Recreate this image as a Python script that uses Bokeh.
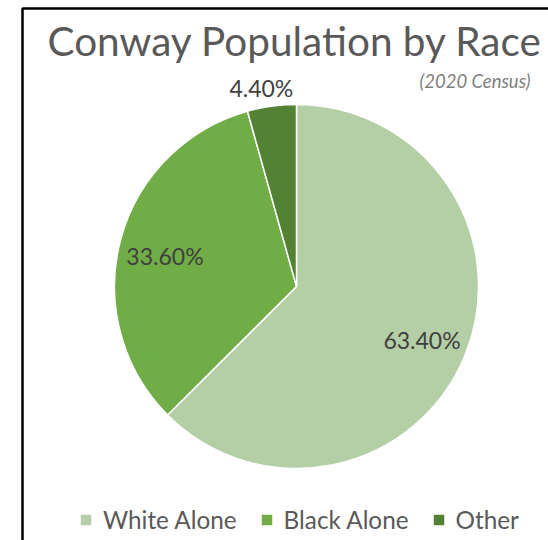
import numpy as np
from bokeh.plotting import figure
from bokeh.models import ColumnDataSource, Legend, LegendItem, Label, BoxAnnotation
from bokeh.core.properties import value
from bokeh.embed import file_html
from bokeh.resources import INLINE

# ---- data ----
races = ["White Alone", "Black Alone", "Other"]
shares = [63.4, 33.6, 4.4]
share_labels = ["63.40%", "33.60%", "4.40%"]
colors = ["#b4cfa5", "#70ad47", "#548235"]

title_text = "Conway Population by Race"
subtitle_text = "(2020 Census)"

# ---- geometry (pixel-like data units, pie centred at 0,0) ----
W, H = 548, 540
cx, cy = 296, 286          # pie centre on the canvas (from left, from top)
R = 182
FONT = "Lato"

frac = np.array(shares) / sum(shares)
cum = np.concatenate([[0.0], np.cumsum(frac)])
start = np.pi / 2 - cum[:-1] * 2 * np.pi
end = np.pi / 2 - cum[1:] * 2 * np.pi
mid = (start + end) / 2

# label placement: inside labels at ~3/4 radius, small slice labelled outside
label_r = np.array([137, 136, 200])
label_dx = np.array([-1, 0, -8])
label_dy = np.array([-1, -4, 0])
lx = label_r * np.cos(mid) + label_dx
ly = label_r * np.sin(mid) + label_dy

src = ColumnDataSource(dict(race=races, share=shares, color=colors,
                            start=start, end=end, lx=lx, ly=ly, lab=share_labels))

p = figure(width=W, height=H, output_backend="svg", toolbar_location=None,
           x_range=(-cx, W - cx), y_range=(-(H - cy), cy),
           min_border=0, border_fill_color="white", outline_line_color=None)
p.axis.visible = False
p.grid.visible = False

wr = p.wedge(x=0, y=0, radius=R, start_angle="start", end_angle="end", direction="clock",
             fill_color="color", line_color="white", line_width=1.5, source=src)

p.text(x="lx", y="ly", text="lab", source=src, text_align="center", text_baseline="middle",
       text_font=value(FONT), text_font_size="23px", text_color="#404040")

# chart border (left and top edges visible, others run off the page)
p.add_layout(BoxAnnotation(left=-cx + 22, right=W - cx + 40, top=cy - 8, bottom=-(H - cy) - 40,
                           fill_alpha=0, line_color="black", line_alpha=1.0, line_width=2.5))

p.add_layout(Label(x=-cx + 47, y=cy - 40, text=title_text, text_font=FONT,
                   text_font_size="40.5px", text_color="#595959",
                   text_align="left", text_baseline="middle"))
p.add_layout(Label(x=W - cx - 18, y=cy - 80, text=subtitle_text, text_font=FONT,
                   text_font_size="18.5px", text_font_style="italic", text_color="#7f7f7f",
                   text_align="right", text_baseline="middle"))

legend = Legend(items=[LegendItem(label=r, renderers=[wr], index=i) for i, r in enumerate(races)],
                orientation="horizontal", location=(78, 6),
                glyph_width=15, glyph_height=15, label_standoff=10, spacing=22,
                label_text_font=FONT, label_text_font_size="24.3px", label_text_color="#595959",
                background_fill_alpha=0, border_line_color=None, padding=0, margin=0)
p.add_layout(legend)

open("out.html", "w").write(file_html(p, INLINE))
